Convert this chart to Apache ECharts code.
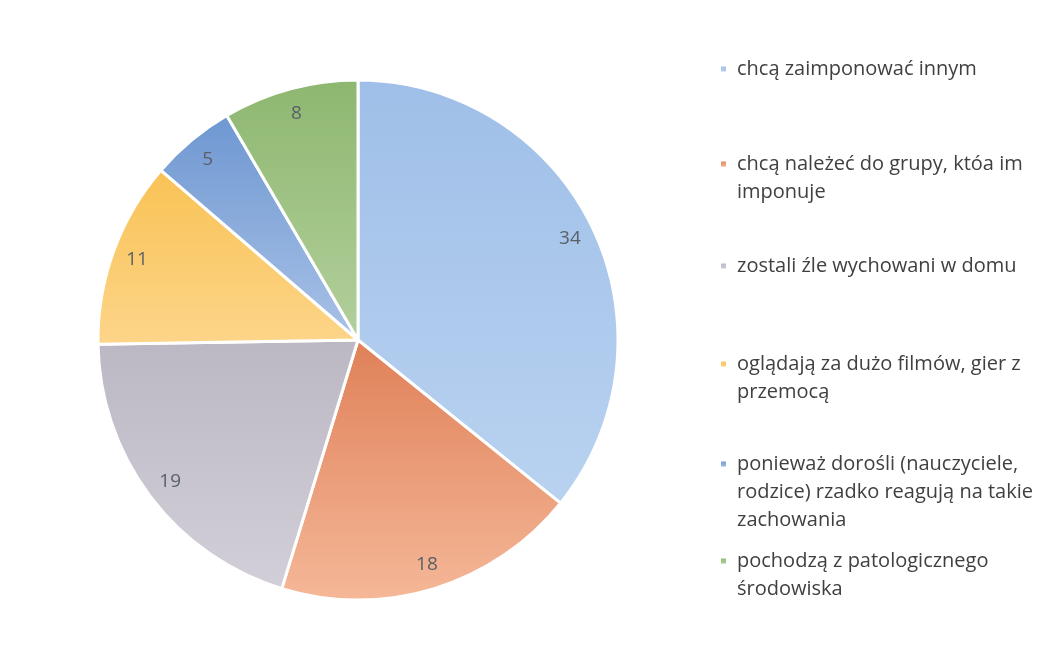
<!DOCTYPE html>
<html>
<head>
<meta charset="utf-8">
<script src="https://cdn.jsdelivr.net/npm/echarts@6/dist/echarts.min.js"></script>
<style>
  html, body { margin: 0; padding: 0; background: #fff; }
  #chart { width: 1053px; height: 665px; }
</style>
</head>
<body>
<div id="chart"></div>
<script>
// legend labels, line breaks as in the picture
var categories = [
    "chcą zaimponować innym",
    "chcą należeć do grupy, któa im\nimponuje",
    "zostali źle wychowani w domu",
    "oglądają za dużo filmów, gier z\nprzemocą",
    "ponieważ dorośli (nauczyciele,\nrodzice) rzadko reagują na takie\nzachowania",
    "pochodzą z patologicznego\nśrodowiska"
];
var values = [34, 18, 19, 11, 5, 8];
var colorsTop = ["#9fbfe8", "#df8058", "#bcb8c3", "#f8c254", "#6e97d1", "#8db770"];
var colorsBottom = ["#b9d2f0", "#f5b898", "#d2cfd9", "#fdd58a", "#a9c2e7", "#b3d09c"];

var chart = echarts.init(document.getElementById("chart"));

var FONT = "Open Sans";
var LH = 28;
var legendFirstLineY = [68, 163, 265, 363, 463, 560];

var pieData = values.map(function (v, i) {
    return {
        name: categories[i],
        value: v,
        itemStyle: {
            color: {
                type: "linear", x: 0, y: 0, x2: 0, y2: 1,
                colorStops: [
                    { offset: 0, color: colorsTop[i] },
                    { offset: 1, color: colorsBottom[i] }
                ]
            }
        }
    };
});

// one legend per item so the first lines sit at the same places as in the picture;
// empty lines in front keep the marker level with the first text line
var legends = categories.map(function (name, i) {
    var n = name.split("\n").length;
    var pre = new Array(n).join("\n");
    return {
        orient: "vertical",
        left: 714,
        top: legendFirstLineY[i] - (2 * n - 1) * LH / 2 - 4,
        selectedMode: false,
        icon: "rect",
        itemWidth: 7,
        itemHeight: 7,
        itemGap: 0,
        data: [name],
        formatter: function (s) { return pre + s; },
        textStyle: {
            fontFamily: FONT,
            fontSize: 20,
            color: "#404040",
            lineHeight: LH,
            padding: [0, 0, 0, 5]
        }
    };
});

var option = {
    backgroundColor: "#ffffff",
    animation: false,
    legend: legends,
    series: [
        {
            name: "pie",
            type: "pie",
            center: [358, 340],
            radius: [0, 260],
            startAngle: 90,
            clockwise: true,
            data: pieData,
            itemStyle: { borderColor: "#ffffff", borderWidth: 3 },
            label: { show: false },
            labelLine: { show: false },
            emphasis: { disabled: true }
        },
        {
            // transparent ring only used to place the value labels near the rim
            name: "labels",
            type: "pie",
            center: [358, 340],
            radius: [204, 260],
            startAngle: 90,
            clockwise: true,
            silent: true,
            data: values.map(function (v, i) {
                return { name: categories[i], value: v };
            }),
            itemStyle: { color: "rgba(0,0,0,0)", borderWidth: 0 },
            label: {
                show: true,
                position: "inside",
                formatter: "{c}",
                fontFamily: FONT,
                fontSize: 19,
                color: "#5b6068"
            },
            labelLine: { show: false },
            emphasis: { disabled: true }
        }
    ]
};

chart.setOption(option);
window.addEventListener("resize", chart.resize);
</script>
</body>
</html>
